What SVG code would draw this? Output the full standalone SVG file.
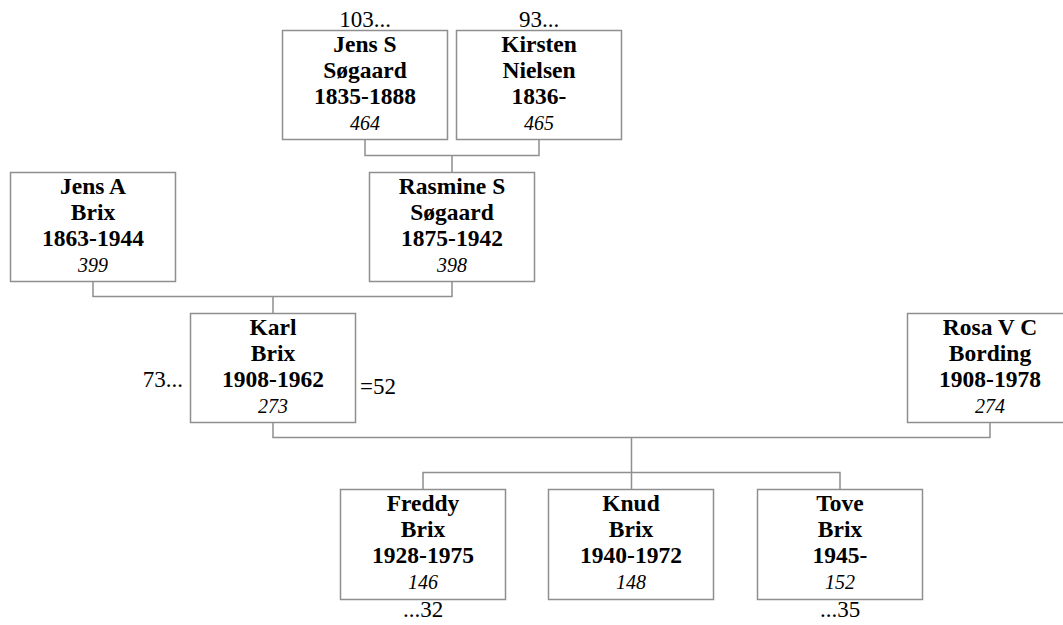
<svg xmlns="http://www.w3.org/2000/svg" width="1063" height="625" viewBox="0 0 1063 625">
<style>
rect.box{fill:#ffffff;stroke:#8f8f8f;stroke-width:1.5}
.c path{fill:none;stroke:#8f8f8f;stroke-width:1.5}
text{font-family:"Liberation Serif","Times New Roman",serif;fill:#000;text-anchor:middle}
.b{font-weight:bold;font-size:23.5px}
.i{font-style:italic;font-size:20px}
.n{font-size:23px}
</style>
<rect width="1063" height="625" fill="#ffffff"/>
<g class="c" id="connectors">
<path d="M365,139.5 V155.5 H539 V139.5 M452,155.5 V172.5"/>
<path d="M93,281.5 V296.5 H452 V281.5 M273,296.5 V313.5"/>
<path d="M273,422.5 V437.5 H990 V422.5 M631.5,437.5 V472.5"/>
<path d="M423,489.5 V472.5 H840 V489.5 M631.5,472.5 V489.5"/>
</g>
<g id="jens-s">
<rect class="box" x="282.5" y="30.5" width="165" height="109"/>
<text class="n" x="365" y="26.5">103...</text>
<text class="b" x="365" y="51.5">Jens S</text>
<text class="b" x="365" y="77.5">Søgaard</text>
<text class="b" x="365" y="103.5">1835-1888</text>
<text class="i" x="365" y="130">464</text>
</g>
<g id="kirsten">
<rect class="box" x="456.5" y="30.5" width="165" height="109"/>
<text class="n" x="539" y="26.5">93...</text>
<text class="b" x="539" y="51.5">Kirsten</text>
<text class="b" x="539" y="77.5">Nielsen</text>
<text class="b" x="539" y="103.5">1836-</text>
<text class="i" x="539" y="130">465</text>
</g>
<g id="jens-a">
<rect class="box" x="10.5" y="172.5" width="165" height="109"/>
<text class="b" x="93" y="193.5">Jens A</text>
<text class="b" x="93" y="219.5">Brix</text>
<text class="b" x="93" y="245.5">1863-1944</text>
<text class="i" x="93" y="272">399</text>
</g>
<g id="rasmine">
<rect class="box" x="369.5" y="172.5" width="165" height="109"/>
<text class="b" x="452" y="193.5">Rasmine S</text>
<text class="b" x="452" y="219.5">Søgaard</text>
<text class="b" x="452" y="245.5">1875-1942</text>
<text class="i" x="452" y="272">398</text>
</g>
<g id="karl">
<rect class="box" x="190.5" y="313.5" width="165" height="109"/>
<text class="n" x="183" y="387" style="text-anchor:end">73...</text>
<text class="n" x="360" y="394" style="text-anchor:start">=52</text>
<text class="b" x="273" y="334.5">Karl</text>
<text class="b" x="273" y="360.5">Brix</text>
<text class="b" x="273" y="386.5">1908-1962</text>
<text class="i" x="273" y="413">273</text>
</g>
<g id="rosa">
<rect class="box" x="907.5" y="313.5" width="165" height="109"/>
<text class="b" x="990" y="334.5">Rosa V C</text>
<text class="b" x="990" y="360.5">Bording</text>
<text class="b" x="990" y="386.5">1908-1978</text>
<text class="i" x="990" y="413">274</text>
</g>
<g id="freddy">
<rect class="box" x="340.5" y="489.5" width="165" height="110"/>
<text class="b" x="423" y="510.5">Freddy</text>
<text class="b" x="423" y="536.5">Brix</text>
<text class="b" x="423" y="562.5">1928-1975</text>
<text class="i" x="423" y="589">146</text>
<text class="n" x="423" y="617">...32</text>
</g>
<g id="knud">
<rect class="box" x="548.5" y="489.5" width="165" height="110"/>
<text class="b" x="631" y="510.5">Knud</text>
<text class="b" x="631" y="536.5">Brix</text>
<text class="b" x="631" y="562.5">1940-1972</text>
<text class="i" x="631" y="589">148</text>
</g>
<g id="tove">
<rect class="box" x="757.5" y="489.5" width="165" height="110"/>
<text class="b" x="840" y="510.5">Tove</text>
<text class="b" x="840" y="536.5">Brix</text>
<text class="b" x="840" y="562.5">1945-</text>
<text class="i" x="840" y="589">152</text>
<text class="n" x="840" y="617">...35</text>
</g>
</svg>
